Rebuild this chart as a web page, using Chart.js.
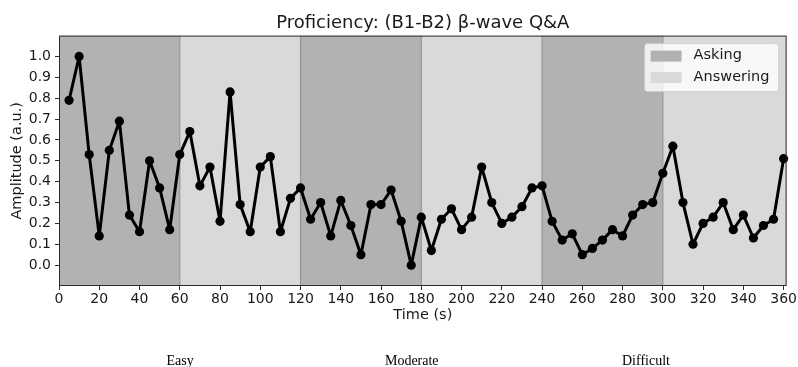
<!DOCTYPE html>
<html>
<head>
<meta charset="utf-8">
<script src="https://cdn.jsdelivr.net/npm/chart.js@4.4.1/dist/chart.umd.min.js"></script>
<style>
    html, body { margin: 0; padding: 0; background: #fff; }
    #khung { width: 798px; height: 367px; position: relative; }
</style>
</head>
<body>
<div id="khung"><canvas id="bieudo"></canvas></div>
<script>
// du lieu doc tu hinh
const times = [5, 10, 15, 20, 25, 30, 35, 40, 45, 50, 55, 60,
    65, 70, 75, 80, 85, 90, 95, 100, 105, 110, 115, 120,
    125, 130, 135, 140, 145, 150, 155, 160, 165, 170, 175, 180,
    185, 190, 195, 200, 205, 210, 215, 220, 225, 230, 235, 240,
    245, 250, 255, 260, 265, 270, 275, 280, 285, 290, 295, 300,
    305, 310, 315, 320, 325, 330, 335, 340, 345, 350, 355, 360];
const amplitude = [0.79, 1.00, 0.53, 0.14, 0.55, 0.69, 0.24, 0.16, 0.50, 0.37, 0.17, 0.53,
    0.64, 0.38, 0.47, 0.21, 0.83, 0.29, 0.16, 0.47, 0.52, 0.16, 0.32, 0.37,
    0.22, 0.30, 0.14, 0.31, 0.19, 0.05, 0.29, 0.29, 0.36, 0.21, 0.00, 0.23,
    0.07, 0.22, 0.27, 0.17, 0.23, 0.47, 0.30, 0.20, 0.23, 0.28, 0.37, 0.38,
    0.21, 0.12, 0.15, 0.05, 0.08, 0.12, 0.17, 0.14, 0.24, 0.29, 0.30, 0.44,
    0.57, 0.30, 0.10, 0.20, 0.23, 0.30, 0.17, 0.24, 0.13, 0.19, 0.22, 0.51];
const phaseStarts = [0, 60, 120, 180, 240, 300];
const phaseEnds = [60, 120, 180, 240, 300, 362];
const phaseNames = ['Asking', 'Answering', 'Asking', 'Answering', 'Asking', 'Answering'];
const legendNames = ['Asking', 'Answering'];
const levels = ['Easy', 'Moderate', 'Difficult'];
const xTicks = [0, 20, 40, 60, 80, 100, 120, 140, 160, 180, 200, 220, 240, 260, 280, 300, 320, 340, 360];
const yTicks = [0.0, 0.1, 0.2, 0.3, 0.4, 0.5, 0.6, 0.7, 0.8, 0.9, 1.0];

const mauNen = { Asking: 'rgb(178,178,178)', Answering: 'rgb(217,217,217)' };
const levelPos = [0.2256, 0.516, 0.8095];
const fontSans = 'DejaVu Sans';

const nenPlugin = {
    id: 'nen',
    beforeDatasetsDraw(chart) {
        const { ctx, chartArea: a, scales: { x } } = chart;
        ctx.save();
        ctx.beginPath();
        ctx.rect(a.left, a.top, a.right - a.left, a.bottom - a.top);
        ctx.clip();
        phaseStarts.forEach(function (s, i) {
            const x0 = x.getPixelForValue(s);
            const x1 = x.getPixelForValue(phaseEnds[i]);
            ctx.fillStyle = mauNen[phaseNames[i]];
            ctx.fillRect(x0, a.top, x1 - x0, a.bottom - a.top);
        });
        ctx.strokeStyle = 'rgb(150,150,150)';
        ctx.lineWidth = 1.2;
        phaseStarts.slice(1).forEach(function (s) {
            const px = x.getPixelForValue(s);
            ctx.beginPath();
            ctx.moveTo(px, a.top);
            ctx.lineTo(px, a.bottom);
            ctx.stroke();
        });
        ctx.restore();
    },
    afterDraw(chart) {
        const { ctx, chartArea: a } = chart;
        ctx.save();
        // khung
        ctx.strokeStyle = '#2b2b2b';
        ctx.lineWidth = 1;
        ctx.strokeRect(a.left + 0.5, a.top + 0.5, a.right - a.left - 1, a.bottom - a.top - 1);

        // chu thich
        const bw = 134, bh = 48;
        const bx = a.right - 8 - bw, by = a.top + 8;
        ctx.fillStyle = 'rgba(255,255,255,0.8)';
        ctx.strokeStyle = 'rgba(204,204,204,0.8)';
        ctx.beginPath();
        ctx.roundRect(bx, by, bw, bh, 3);
        ctx.fill();
        ctx.stroke();
        ctx.font = '14.5px "' + fontSans + '"';
        ctx.textBaseline = 'middle';
        ctx.textAlign = 'left';
        legendNames.forEach(function (name, i) {
            const cy = by + 12 + i * 21.5;
            ctx.fillStyle = mauNen[name];
            ctx.fillRect(bx + 6, cy - 5, 31, 11);
            ctx.fillStyle = '#1a1a1a';
            ctx.fillText(name, bx + 49, cy);
        });

        // muc do
        ctx.font = '14px "Liberation Serif"';
        ctx.fillStyle = '#000';
        ctx.textAlign = 'center';
        ctx.textBaseline = 'alphabetic';
        levels.forEach(function (lv, i) {
            ctx.fillText(lv, chart.width * levelPos[i], 365);
        });
        ctx.restore();
    }
};

const bieudo = document.getElementById('bieudo');

new Chart(bieudo, {
    type: 'line',
    data: {
        datasets: [{
            label: 'Amplitude',
            data: times.map(function (t, i) { return { x: t, y: amplitude[i] }; }),
            borderColor: '#000',
            backgroundColor: '#000',
            borderWidth: 3,
            borderJoinStyle: 'round',
            borderCapStyle: 'round',
            pointRadius: 4.6,
            pointBackgroundColor: '#000',
            pointBorderWidth: 0,
            tension: 0,
            clip: false
        }]
    },
    options: {
        responsive: true,
        maintainAspectRatio: false,
        animation: false,
        layout: { padding: { left: 0, right: 10, top: 0, bottom: 42 } },
        plugins: {
            legend: { display: false },
            tooltip: { enabled: false },
            title: {
                display: true,
                fullSize: false,
                text: 'Proficiency: (B1-B2) β-wave Q&A',
                color: '#1a1a1a',
                font: { family: fontSans, size: 18, weight: 'normal' },
                padding: { top: 13, bottom: 1 }
            }
        },
        scales: {
            x: {
                type: 'linear',
                min: 0,
                max: 361.5,
                afterFit: function (s) { s.height = 39; },
                afterBuildTicks: function (s) { s.ticks = xTicks.map(function (v) { return { value: v }; }); },
                grid: { display: true, drawOnChartArea: false, drawTicks: true, tickLength: 4, color: '#2b2b2b', tickColor: '#2b2b2b' },
                border: { display: false },
                ticks: {
                    color: '#1a1a1a',
                    font: { family: fontSans, size: 14 },
                    padding: 1,
                    maxRotation: 0,
                    autoSkip: false,
                    callback: function (v) { return String(v); }
                },
                title: {
                    display: true,
                    text: 'Time (s)',
                    color: '#1a1a1a',
                    font: { family: fontSans, size: 14.5 },
                    padding: { top: 0, bottom: 1 }
                }
            },
            y: {
                min: -0.1,
                max: 1.1,
                afterFit: function (s) { s.width = 59; },
                afterBuildTicks: function (s) { s.ticks = yTicks.map(function (v) { return { value: v }; }); },
                grid: { display: true, drawOnChartArea: false, drawTicks: true, tickLength: 4, color: '#2b2b2b', tickColor: '#2b2b2b' },
                border: { display: false },
                ticks: {
                    color: '#1a1a1a',
                    font: { family: fontSans, size: 14 },
                    padding: 4,
                    autoSkip: false,
                    callback: function (v) { return Number(v).toFixed(1); }
                },
                title: {
                    display: true,
                    text: 'Amplitude (a.u.)',
                    color: '#1a1a1a',
                    font: { family: fontSans, size: 14.5 },
                    padding: { top: 9, bottom: 0 }
                }
            }
        }
    },
    plugins: [nenPlugin]
});
</script>
</body>
</html>
